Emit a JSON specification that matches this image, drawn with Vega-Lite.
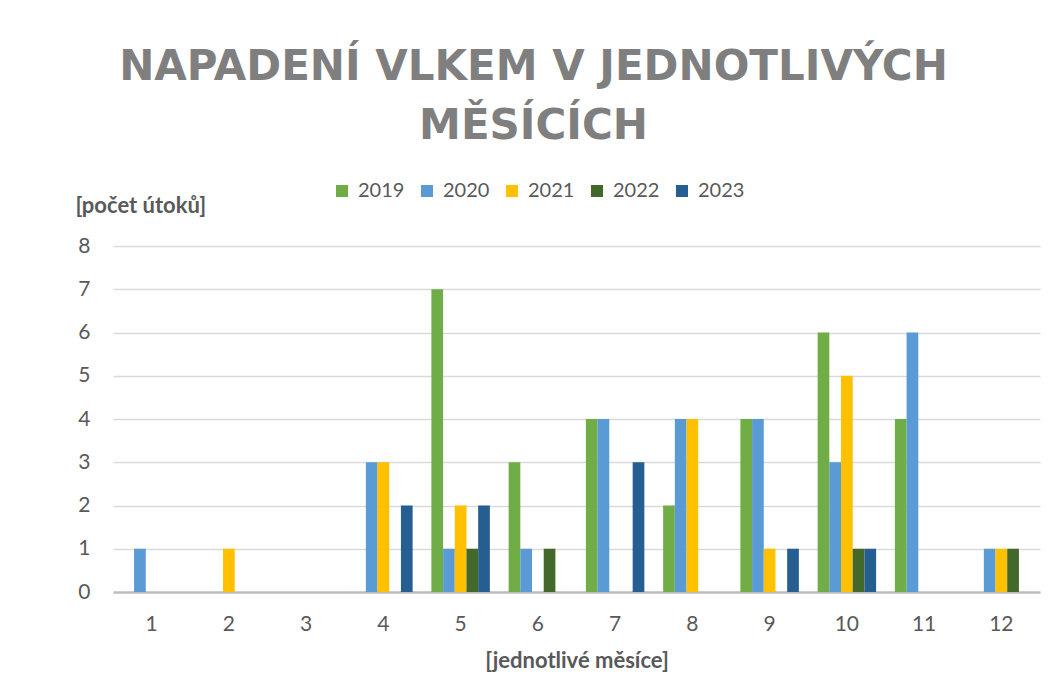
{
  "$schema": "https://vega.github.io/schema/vega-lite/v6.json",
  "width": 927,
  "height": 346,
  "autosize": {"type": "none"},
  "padding": {"left": 113, "top": 246, "right": 11, "bottom": 94},
  "background": "white",
  "title": {
    "text": ["NAPADENÍ VLKEM V JEDNOTLIVÝCH", "MĚSÍCÍCH"],
    "font": "DejaVu Sans",
    "fontSize": 42,
    "fontWeight": "bold",
    "color": "#7f7f7f",
    "lineHeight": 59,
    "anchor": "middle",
    "frame": "group",
    "dx": -43,
    "offset": 33
  },
  "data": {
    "values": [
      {"mesic": 1, "rok": "2020", "pocet": 1},
      {"mesic": 2, "rok": "2021", "pocet": 1},
      {"mesic": 4, "rok": "2020", "pocet": 3},
      {"mesic": 4, "rok": "2021", "pocet": 3},
      {"mesic": 4, "rok": "2023", "pocet": 2},
      {"mesic": 5, "rok": "2019", "pocet": 7},
      {"mesic": 5, "rok": "2020", "pocet": 1},
      {"mesic": 5, "rok": "2021", "pocet": 2},
      {"mesic": 5, "rok": "2022", "pocet": 1},
      {"mesic": 5, "rok": "2023", "pocet": 2},
      {"mesic": 6, "rok": "2019", "pocet": 3},
      {"mesic": 6, "rok": "2020", "pocet": 1},
      {"mesic": 6, "rok": "2022", "pocet": 1},
      {"mesic": 7, "rok": "2019", "pocet": 4},
      {"mesic": 7, "rok": "2020", "pocet": 4},
      {"mesic": 7, "rok": "2023", "pocet": 3},
      {"mesic": 8, "rok": "2019", "pocet": 2},
      {"mesic": 8, "rok": "2020", "pocet": 4},
      {"mesic": 8, "rok": "2021", "pocet": 4},
      {"mesic": 9, "rok": "2019", "pocet": 4},
      {"mesic": 9, "rok": "2020", "pocet": 4},
      {"mesic": 9, "rok": "2021", "pocet": 1},
      {"mesic": 9, "rok": "2023", "pocet": 1},
      {"mesic": 10, "rok": "2019", "pocet": 6},
      {"mesic": 10, "rok": "2020", "pocet": 3},
      {"mesic": 10, "rok": "2021", "pocet": 5},
      {"mesic": 10, "rok": "2022", "pocet": 1},
      {"mesic": 10, "rok": "2023", "pocet": 1},
      {"mesic": 11, "rok": "2019", "pocet": 4},
      {"mesic": 11, "rok": "2020", "pocet": 6},
      {"mesic": 12, "rok": "2020", "pocet": 1},
      {"mesic": 12, "rok": "2021", "pocet": 1},
      {"mesic": 12, "rok": "2022", "pocet": 1}
    ]
  },
  "mark": {"type": "bar"},
  "encoding": {
    "x": {
      "field": "mesic",
      "type": "ordinal",
      "scale": {"domain": [1, 2, 3, 4, 5, 6, 7, 8, 9, 10, 11, 12], "paddingInner": 0.243, "paddingOuter": 0.1215},
      "axis": {
        "title": "[jednotlivé měsíce]",
        "labelAngle": 0,
        "labelFont": "Lato",
        "labelFontSize": 21,
        "labelColor": "#595959",
        "labelPadding": 21,
        "ticks": false,
        "domainColor": "#bfbfbf",
        "domainWidth": 2.5,
        "titleFont": "Lato",
        "titleFontSize": 22,
        "titleFontWeight": "bold",
        "titleColor": "#595959",
        "titlePadding": 16
      }
    },
    "xOffset": {
      "field": "rok",
      "type": "nominal",
      "scale": {"domain": ["2019", "2020", "2021", "2022", "2023"], "paddingInner": 0, "paddingOuter": 0}
    },
    "y": {
      "field": "pocet",
      "type": "quantitative",
      "scale": {"domain": [0, 8]},
      "axis": {
        "values": [0, 1, 2, 3, 4, 5, 6, 7, 8],
        "title": "[počet útoků]",
        "titleAngle": 0,
        "titleAlign": "left",
        "titleBaseline": "middle",
        "titleX": -38,
        "titleY": -41,
        "titleFont": "Lato",
        "titleFontSize": 22,
        "titleFontWeight": "bold",
        "titleColor": "#595959",
        "labelFont": "Lato",
        "labelFontSize": 21,
        "labelColor": "#595959",
        "labelPadding": 23,
        "ticks": false,
        "domain": false,
        "grid": true,
        "gridColor": "#d9d9d9",
        "gridWidth": 1.5
      }
    },
    "color": {
      "field": "rok",
      "type": "nominal",
      "scale": {
        "domain": ["2019", "2020", "2021", "2022", "2023"],
        "range": ["#70ad47", "#5b9bd5", "#ffc000", "#43682b", "#255e91"]
      },
      "legend": {
        "title": null,
        "orient": "none",
        "direction": "horizontal",
        "legendX": 219,
        "legendY": -65,
        "symbolType": "square",
        "symbolSize": 144,
        "symbolStrokeWidth": 0,
        "labelFont": "Lato",
        "labelFontSize": 20,
        "labelColor": "#595959",
        "labelOffset": 6,
        "columnPadding": 12
      }
    }
  },
  "config": {"view": {"stroke": null}}
}
